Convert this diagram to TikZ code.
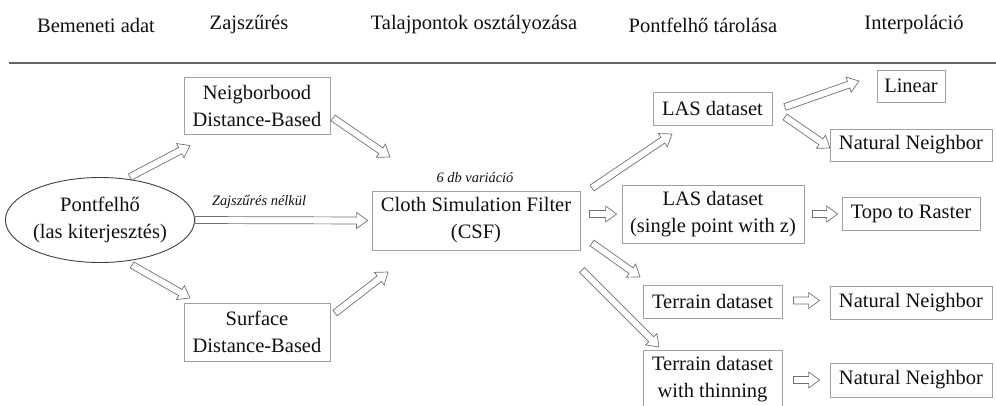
\documentclass[tikz,border=0pt]{standalone}
\usepackage{fontspec}
\setmainfont{Liberation Serif}
\usetikzlibrary{shapes.geometric,calc}
\definecolor{boxgray}{HTML}{A0A0A0}
\definecolor{arrgray}{HTML}{707070}
\definecolor{txt}{HTML}{101010}
\begin{document}
\begin{tikzpicture}[x=1pt,y=-1pt,
  every node/.style={text=txt,font=\fontsize{20.5}{27}\selectfont,align=center,inner sep=0pt},
  box/.style={draw=boxgray,line width=0.8pt,rectangle},
  hdr/.style={font=\fontsize{20.5}{24}\selectfont},
  lbl/.style={font=\fontsize{14.4}{17}\selectfont\itshape},
  hollow/.style={draw=arrgray,line width=0.7pt,line join=miter,to path={
    let \p1=(\tikztostart), \p2=(\tikztotarget),
        \n1={atan2(\y2-\y1,\x2-\x1)}, \n2={veclen(\x2-\x1,\y2-\y1)} in
    ($(\p1)+({\n1+90}:3.5pt)$) -- ($(\p1)+({\n1}:{\n2-11pt})+({\n1+90}:3.5pt)$)
    -- ($(\p1)+({\n1}:{\n2-11pt})+({\n1+90}:8pt)$) -- (\p2)
    -- ($(\p1)+({\n1}:{\n2-11pt})+({\n1-90}:8pt)$)
    -- ($(\p1)+({\n1}:{\n2-11pt})+({\n1-90}:3.5pt)$)
    -- ($(\p1)+({\n1-90}:3.5pt)$) -- cycle}}]
\useasboundingbox (0,0) rectangle (996,405);
% header
\node[hdr] (h1) at (96,25) {Bemeneti adat};
\node[hdr] (h2) at (249,25) {Zajszűrés};
\node[hdr] (h3) at (474,25) {Talajpontok osztályozása};
\node[hdr] (h4) at (703,25) {Pontfelhő tárolása};
\node[hdr] (h5) at (914,25) {Interpoláció};
\coordinate (hl) at (9,63);
\coordinate (hr) at (996,63);
\draw[line width=2pt,color=black!60] (hl) -- (hr);
% nodes
\node[ellipse,draw=black!75,line width=0.9pt,minimum width=170pt,minimum height=85pt] (ell) at (100,220) {Pontfelhő\\(las kiterjesztés)};
\node[box,minimum width=146pt,minimum height=57pt] (nbd) at (257,105.5) {Neigborbood\\Distance-Based};
\node[box,minimum width=146pt,minimum height=58pt] (sfc) at (257,332) {Surface\\Distance-Based};
\node[box,minimum width=208pt,minimum height=59pt] (csf) at (476,220.5) {Cloth Simulation Filter\\(CSF)};
\node[box,minimum width=119pt,minimum height=33pt] (las) at (712.5,108.5) {LAS dataset};
\node[box,minimum width=182pt,minimum height=58pt] (lasz) at (713,214) {LAS dataset\\(single point with z)};
\node[box,minimum width=139pt,minimum height=33pt] (ter) at (712.5,301.5) {Terrain dataset};
\node[box,minimum width=139pt,minimum height=58pt] (tert) at (712.5,379) {Terrain dataset\\with thinning};
\node[box,minimum width=68pt,minimum height=32pt] (lin) at (911,86) {Linear};
\node[box,minimum width=162pt,minimum height=32pt] (nn1) at (911,145) {Natural Neighbor};
\node[box,minimum width=138pt,minimum height=33pt] (topo) at (911,213.5) {Topo to Raster};
\node[box,minimum width=162pt,minimum height=33pt] (nn2) at (911,303) {Natural Neighbor};
\node[box,minimum width=162pt,minimum height=34pt] (nn3) at (911,380) {Natural Neighbor};
% labels
\node[lbl] (l1) at (475,178) {6 db variáció};
\node[lbl] (l2) at (259,202) {Zajszűrés nélkül};
% arrows
\draw[hollow] ($(ell)+(30,-43)$) to ($(nbd)+(-67,40)$);
\draw[hollow] ($(ell)+(32,45)$) to ($(sfc)+(-67,-34)$);
\draw[hollow] (ell.east) to ($(csf.west)+(-4,0)$);
\draw[hollow] ($(nbd)+(76,12.5)$) to ($(csf)+(-86,-63.5)$);
\draw[hollow] ($(sfc)+(78,-19)$) to ($(csf)+(-88,51.5)$);
\draw[hollow] ($(csf)+(116,-32.5)$) to ($(las)+(-40.5,25.5)$);
\draw[hollow] ($(csf.east |- lasz.west)+(9,0)$) to ($(lasz.west)+(-5,0)$);
\draw[hollow] ($(csf)+(116,22.5)$) to ($(ter)+(-72.5,-24.5)$);
\draw[hollow] ($(csf)+(106,49.5)$) to ($(tert)+(-53.5,-32)$);
\draw[hollow] ($(las)+(72.5,-1.5)$) to ($(lin)+(-52,-5)$);
\draw[hollow] ($(las)+(72.5,8.5)$) to ($(nn1)+(-81,3)$);
\draw[hollow] ($(lasz.east)+(8,0)$) to ($(topo.west |- lasz.east)+(-4,0)$);
\draw[hollow] ($(ter.east)+(11,-1)$) to ($(nn2.west |- ter.east)+(-10,-1)$);
\draw[hollow] ($(tert.east)+(11,1)$) to ($(nn3.west |- tert.east)+(-10,1)$);
\end{tikzpicture}
\end{document}
